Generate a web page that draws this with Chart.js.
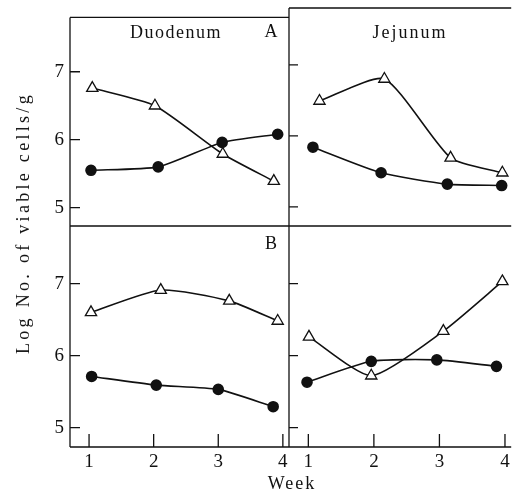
<!DOCTYPE html>
<html>
<head>
<meta charset="utf-8">
<script src="https://cdn.jsdelivr.net/npm/chart.js@4.4.1/dist/chart.umd.min.js"></script>
<style>
  html, body { margin: 0; padding: 0; background: #fff; }
  #wrap { position: relative; width: 519px; height: 494px; overflow: hidden; }
  #wrap canvas { position: absolute; left: 0; top: 0; }
  .lbl { position: absolute; font-family: "Liberation Serif", "DejaVu Serif", serif; color: #111;
         font-size: 18px; white-space: nowrap; transform: translate(-50%, -50%); line-height: 1; }
</style>
</head>
<body>
<div id="wrap">
  <canvas id="c-tl" width="519" height="494"></canvas>
  <canvas id="c-tr" width="519" height="494"></canvas>
  <canvas id="c-bl" width="519" height="494"></canvas>
  <canvas id="c-br" width="519" height="494"></canvas>
  <div class="lbl" style="left:176px;top:32px;letter-spacing:1.5px">Duodenum</div>
  <div class="lbl" style="left:271px;top:31px">A</div>
  <div class="lbl" style="left:410px;top:32px;letter-spacing:2px">Jejunum</div>
  <div class="lbl" style="left:271px;top:243px">B</div>
  <div class="lbl" style="left:23px;top:223px;letter-spacing:3.3px;transform:translate(-50%,-50%) rotate(-90deg)">Log No. of viable cells/g</div>
  <div class="lbl" style="left:292px;top:483px;letter-spacing:2px">Week</div>
</div>
<script>
// tick values
const weekTicks = [1, 2, 3, 4];
const logTicks = [5, 6, 7];

// A, Duodenum
const duoATriWeek = [1.05, 2.02, 3.07, 3.86];
const duoATri = [6.76, 6.50, 5.79, 5.39];
const duoADotWeek = [1.03, 2.07, 3.06, 3.92];
const duoADot = [5.55, 5.60, 5.96, 6.08];

// A, Jejunum
const jejATriWeek = [1.17, 2.16, 3.17, 3.96];
const jejATri = [6.49, 6.80, 5.69, 5.48];
const jejADotWeek = [1.07, 2.11, 3.12, 3.95];
const jejADot = [5.84, 5.48, 5.32, 5.30];

// B, Duodenum
const duoBTriWeek = [1.03, 2.11, 3.17, 3.92];
const duoBTri = [6.60, 6.91, 6.76, 6.48];
const duoBDotWeek = [1.04, 2.04, 3.00, 3.85];
const duoBDot = [5.71, 5.59, 5.53, 5.29];

// B, Jejunum
const jejBTriWeek = [1.01, 1.96, 3.06, 3.96];
const jejBTri = [6.26, 5.72, 6.34, 7.03];
const jejBDotWeek = [0.98, 1.96, 2.96, 3.87];
const jejBDot = [5.63, 5.92, 5.94, 5.85];

const INK = "#111";
const FONT = "'Liberation Serif', 'DejaVu Serif', serif";

// frame lines and inward tick marks
const framePlugin = {
  id: "frame",
  afterDraw(chart, args, opts) {
    const { ctx, chartArea: a, scales } = chart;
    ctx.save();
    ctx.strokeStyle = INK;
    ctx.lineWidth = 1.3;
    ctx.beginPath();
    if (opts.sides.includes("top")) { ctx.moveTo(a.left, a.top); ctx.lineTo(a.right, a.top); }
    if (opts.sides.includes("left")) { ctx.moveTo(a.left, a.top); ctx.lineTo(a.left, a.bottom); }
    if (opts.sides.includes("bottom")) { ctx.moveTo(a.left, a.bottom); ctx.lineTo(a.right, a.bottom); }
    logTicks.forEach((v) => {
      const y = scales.y.getPixelForValue(v);
      ctx.moveTo(a.left, y);
      ctx.lineTo(a.left + opts.yTickLen, y);
    });
    if (opts.xTicks) {
      weekTicks.forEach((v) => {
        const x = scales.x.getPixelForValue(v);
        ctx.moveTo(x, a.bottom);
        ctx.lineTo(x, a.bottom - 13);
      });
    }
    ctx.stroke();
    ctx.restore();
  },
};

function toPoints(xs, ys) {
  return xs.map((x, i) => ({ x, y: ys[i] }));
}

function makePanel(id, tri, dot, cfg) {
  return new Chart(document.getElementById(id), {
    type: "line",
    data: {
      datasets: [
        {
          label: "triangle",
          data: tri,
          borderColor: INK,
          borderWidth: 1.6,
          tension: 0.2,
          pointStyle: "triangle",
          pointRadius: 6.5,
          pointBorderWidth: 1.3,
          pointBackgroundColor: "#fff",
          pointBorderColor: INK,
        },
        {
          label: "circle",
          data: dot,
          borderColor: INK,
          borderWidth: 1.6,
          tension: 0.2,
          pointStyle: "circle",
          pointRadius: 5,
          pointBackgroundColor: INK,
          pointBorderColor: INK,
        },
      ],
    },
    options: {
      responsive: false,
      animation: false,
      devicePixelRatio: 1,
      layout: { padding: cfg.padding },
      plugins: {
        legend: { display: false },
        tooltip: { enabled: false },
        frame: { sides: cfg.sides, yTickLen: cfg.yTickLen, xTicks: cfg.showX },
      },
      scales: {
        x: {
          type: "linear",
          min: 0.705,
          max: 4.095,
          display: cfg.showX,
          afterBuildTicks: (s) => { s.ticks = weekTicks.map((v) => ({ value: v })); },
          afterFit: (s) => { s.height = cfg.showX ? 30 : 0; },
          grid: { display: false, drawTicks: false },
          border: { display: false },
          ticks: { color: INK, padding: 4, font: { family: FONT, size: 19 } },
        },
        y: {
          type: "linear",
          min: 4.73,
          max: 7.8,
          display: cfg.showY,
          afterBuildTicks: (s) => { s.ticks = logTicks.map((v) => ({ value: v })); },
          afterFit: (s) => { s.width = cfg.showY ? 30 : 0; },
          grid: { display: false, drawTicks: false },
          border: { display: false },
          ticks: { color: INK, padding: 6, font: { family: FONT, size: 19 } },
        },
      },
    },
    plugins: [framePlugin],
  });
}

makePanel("c-tl", toPoints(duoATriWeek, duoATri), toPoints(duoADotWeek, duoADot), {
  padding: { left: 40, right: 230, top: 8, bottom: 268 },
  showX: false, showY: true, sides: ["top", "left", "bottom"], yTickLen: 10,
});
makePanel("c-tr", toPoints(jejATriWeek, jejATri), toPoints(jejADotWeek, jejADot), {
  padding: { left: 289, right: 0, top: 8, bottom: 268 },
  showX: false, showY: false, sides: ["top", "left", "bottom"], yTickLen: 9,
});
makePanel("c-bl", toPoints(duoBTriWeek, duoBTri), toPoints(duoBDotWeek, duoBDot), {
  padding: { left: 40, right: 230, top: 226, bottom: 17 },
  showX: true, showY: true, sides: ["left", "bottom"], yTickLen: 10,
});
makePanel("c-br", toPoints(jejBTriWeek, jejBTri), toPoints(jejBDotWeek, jejBDot), {
  padding: { left: 289, right: 0, top: 226, bottom: 17 },
  showX: true, showY: false, sides: ["left", "bottom"], yTickLen: 9,
});
</script>
</body>
</html>
